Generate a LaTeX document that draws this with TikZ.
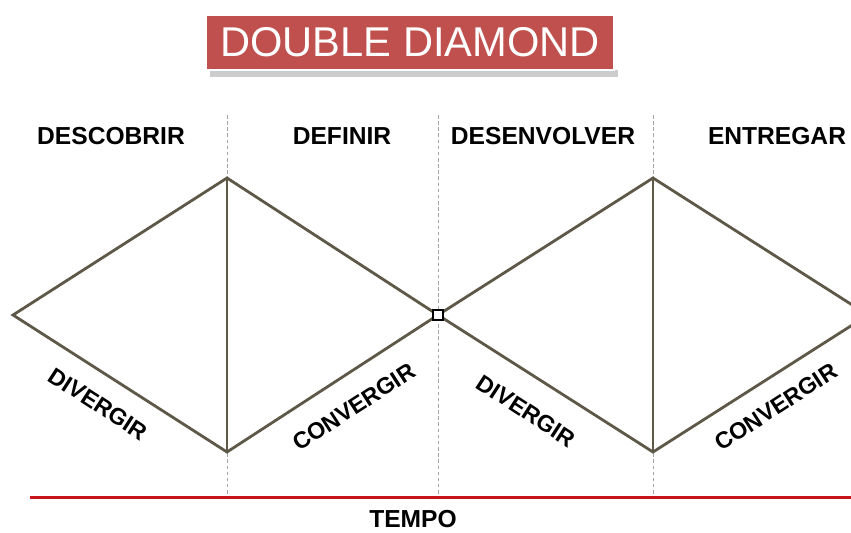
\documentclass[tikz,border=0pt]{standalone}
\usepackage{fontspec}
\setmainfont{Liberation Sans}
\usepackage{tikz}
\usetikzlibrary{positioning}

\definecolor{titlered}{HTML}{C0504D}
\definecolor{diamondline}{HTML}{5E5848}
\definecolor{timered}{HTML}{C8151B}

\begin{document}
\begin{tikzpicture}[
    x=0.02cm, y=0.02cm,
    phase/.style={font=\fontsize{14}{16}\selectfont\bfseries, anchor=center, inner sep=1pt},
    slopelabel/.style={font=\fontsize{13.2}{15}\selectfont\bfseries, anchor=center, inner sep=0pt},
    edge/.style={diamondline, line width=1.6pt},
    divider/.style={gray!70, dashed, dash pattern=on 2pt off 1.5pt, line width=0.5pt}
]
\useasboundingbox (0,0) rectangle (851,532);

% title
\fill[black!20] (210,455) rectangle (618,462);
\node[fill=titlered, draw=white, line width=0.8pt, minimum width=408*0.02cm, minimum height=55*0.02cm,
      text=white, font=\fontsize{23.7}{26}\selectfont] (title) at (410,489.5) {DOUBLE DIAMOND};

% phases
\node[phase] (descobrir) at (111,396) {DESCOBRIR};
\node[phase] (definir) at (342,396) {DEFINIR};
\node[phase] (desenvolver) at (543,396) {DESENVOLVER};
\node[phase] (entregar) at (777,396) {ENTREGAR};

% dividers
\coordinate (d1top) at (227,417); \coordinate (d1bot) at (227,37);
\coordinate (d2top) at (438,417); \coordinate (d2bot) at (438,37);
\coordinate (d3top) at (653,417); \coordinate (d3bot) at (653,37);
\draw[divider] (d1top) -- (d1bot);
\draw[divider] (d2top) -- (d2bot);
\draw[divider] (d3top) -- (d3bot);

% diamonds
\coordinate (left1) at (13,217);
\coordinate (top1) at (227,354);
\coordinate (bot1) at (227,80);
\coordinate (mid) at (438,217);
\coordinate (top2) at (653,354);
\coordinate (bot2) at (653,80);
\coordinate (right2) at (868,217);

\begin{scope}
\clip (0,0) rectangle (851,532);
\draw[edge] (left1) -- (top1) -- (mid) -- (bot1) -- cycle;
\draw[edge] (mid) -- (top2) -- (right2) -- (bot2) -- cycle;
\end{scope}
\draw[edge] (top1) -- (bot1);
\draw[edge] (top2) -- (bot2);
\node[draw=black, fill=white, line width=1pt, inner sep=0pt, minimum size=6pt] (centre) at (mid) {};

% slope labels
\node[slopelabel, rotate=-33] (div1) at (98,128) {DIVERGIR};
\node[slopelabel, rotate=33] (conv1) at (354,125) {CONVERGIR};
\node[slopelabel, rotate=-33] (div2) at (526,121) {DIVERGIR};
\node[slopelabel, rotate=33] (conv2) at (776,125) {CONVERGIR};

% time axis
\coordinate (tstart) at (30,35);
\coordinate (tend) at (851,35);
\draw[timered, line width=1.7pt] (tstart) -- (tend);
\node[phase] (tempo) at (413,13) {TEMPO};
\end{tikzpicture}
\end{document}
